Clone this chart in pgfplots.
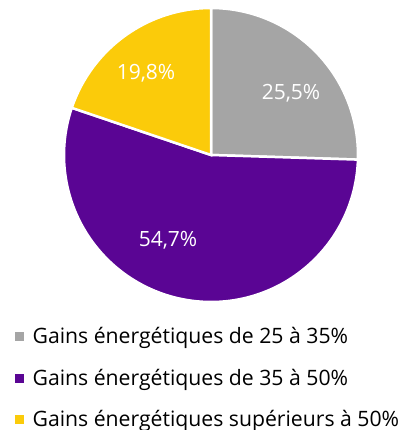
\documentclass[border=0pt]{standalone}
\usepackage{pgfplots}
\pgfplotsset{compat=1.18}
\usepackage{fontspec}
\setmainfont{Open Sans}

\definecolor{pgray}{HTML}{A5A5A5}
\definecolor{ppurple}{HTML}{5A0594}
\definecolor{pyellow}{HTML}{FBCB0A}

\begin{document}
\begin{tikzpicture}
\begin{axis}[
  width=401pt, height=430pt, scale only axis,
  hide axis,
  xmin=0, xmax=401, ymin=0, ymax=430,
  legend cell align=left,
  legend image code/.code={\fill[#1] (0pt,-4pt) rectangle (8pt,4pt); \path (15pt,0pt);},
  legend style={draw=none, fill=none, inner sep=0pt,
    at={(axis cs:15,105)}, anchor=north west,
    font=\fontsize{21.2}{25}\selectfont, row sep=20pt},
]
% slices: share (%), colour, label x, label y (pie centre 211,275, radius 147)
\xdef\start{90}
\foreach \v/\c/\lx/\ly in {25.5/pgray/291/337, 54.7/ppurple/168/190, 19.8/pyellow/146/357}{
  \pgfmathsetmacro\stop{\start-3.6*\v}
  \edef\temp{\noexpand\fill[\c, draw=white, line width=2.5pt]
      (axis cs:211,275) -- ++(\start:147pt)
      arc[start angle=\start, end angle=\stop, radius=147pt] -- cycle;
    \noexpand\node[white, font=\noexpand\fontsize{21}{25}\noexpand\selectfont]
      at (axis cs:\lx,\ly)
      {\noexpand\pgfmathprintnumber[use comma, fixed, fixed zerofill, precision=1, assume math mode=true]{\v}\noexpand\%};}
  \temp
  \xdef\start{\stop}
}
\addlegendimage{pgray}
\addlegendentry{Gains énergétiques de 25 à 35\%}
\addlegendimage{ppurple}
\addlegendentry{Gains énergétiques de 35 à 50\%}
\addlegendimage{pyellow}
\addlegendentry{Gains énergétiques supérieurs à 50\%}
\end{axis}
\pgfresetboundingbox
\path (0,0) rectangle (401pt,430pt);
\end{tikzpicture}
\end{document}
